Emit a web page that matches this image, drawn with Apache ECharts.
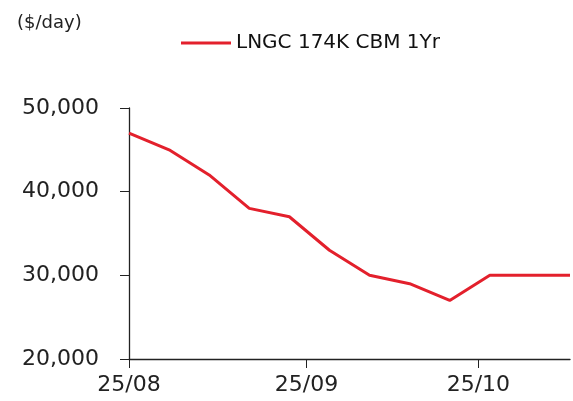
<!DOCTYPE html>
<html>
<head>
<meta charset="utf-8">
<script src="https://cdn.jsdelivr.net/npm/echarts@6/dist/echarts.min.js"></script>
<style>
  html, body { margin: 0; padding: 0; background: #fff; }
  #chart { width: 573px; height: 401px; }
</style>
</head>
<body>
<div id="chart"></div>
<script>
// weekly fixing dates and rates ($/day)
var dates = ['2025-08-01', '2025-08-08', '2025-08-15', '2025-08-22', '2025-08-29', '2025-09-05',
  '2025-09-12', '2025-09-19', '2025-09-26', '2025-10-03', '2025-10-10', '2025-10-17'];
var rates = [47000, 45000, 42000, 38000, 37000, 33000, 30000, 29000, 27000, 30000, 30000, 30000];
var seriesName = 'LNGC 174K CBM 1Yr';
var yTicks = [20000, 30000, 40000, 50000];

var chart = echarts.init(document.getElementById('chart'));

var seriesData = dates.map(function (d, i) {
  return [d, rates[i]];
});

var fontFamily = '"DejaVu Sans", sans-serif';

var option = {
  animation: false,
  textStyle: { fontFamily: fontFamily },
  title: {
    text: '($/day)',
    left: 12,
    top: 9,
    textStyle: { fontSize: 18, fontWeight: 'normal', color: '#222', fontFamily: fontFamily }
  },
  legend: {
    data: [seriesName],
    top: 28,
    left: 176,
    itemWidth: 50,
    itemHeight: 3,
    itemGap: 5,
    icon: 'rect',
    textStyle: { fontSize: 20, color: '#111', fontFamily: fontFamily }
  },
  grid: {
    left: 129,
    right: 3,
    top: 108,
    bottom: 42,
    containLabel: false
  },
  xAxis: {
    type: 'time',
    min: '2025-08-01',
    max: '2025-10-17',
    minInterval: 28 * 86400000,
    splitNumber: 3,
    axisLine: { lineStyle: { color: '#222', width: 1.3 } },
    axisTick: { show: true, length: 9, lineStyle: { color: '#222' } },
    axisLabel: {
      formatter: '{yy}/{MM}',
      fontSize: 22,
      color: '#222',
      margin: 15,
      showMinLabel: true,
      hideOverlap: false
    },
    splitLine: { show: false }
  },
  yAxis: {
    type: 'value',
    min: yTicks[0],
    max: yTicks[yTicks.length - 1],
    interval: 10000,
    axisLine: { show: true, lineStyle: { color: '#222', width: 1.3 } },
    axisTick: { show: true, length: 9, lineStyle: { color: '#222' } },
    axisLabel: {
      fontSize: 22,
      color: '#222',
      margin: 30,
      formatter: function (v) { return v.toLocaleString('en-US'); }
    },
    splitLine: { show: false }
  },
  series: [{
    name: seriesName,
    type: 'line',
    data: seriesData,
    showSymbol: false,
    symbol: 'none',
    lineStyle: { color: '#e3202c', width: 3 },
    itemStyle: { color: '#e3202c' }
  }]
};

chart.setOption(option);
</script>
</body>
</html>
